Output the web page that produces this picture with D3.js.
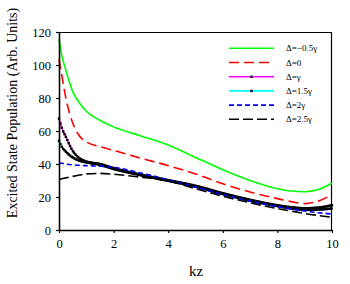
<!DOCTYPE html>
<html>
<head>
<meta charset="utf-8">
<script src="https://cdn.jsdelivr.net/npm/d3@7"></script>
<style>
  body { margin: 0; background: #fff; }
  svg { display: block; }
  svg text { font-family: "Liberation Serif", "Times New Roman", serif !important; }
</style>
</head>
<body>
<svg id="chart" width="350" height="284"></svg>
<script>
// values
var kz         = [0, 0.1, 0.25, 0.5, 0.75, 1, 1.5, 2, 3, 4, 5, 6, 7, 8, 8.5, 9, 9.5, 10];
var dNeg05     = [115.5, 106, 97, 84, 77, 72, 66.5, 62.5, 57, 51.5, 44, 36.5, 30, 25, 23.6, 23.2, 24.5, 28.5];
var dZero      = [103.5, 94, 80, 65, 57, 53.5, 50.5, 48.3, 43.5, 39, 34, 28, 23, 19, 17.2, 16, 17.5, 21.5];
var dGamma     = [67.5, 62, 56.5, 48, 43.5, 41.5, 40, 37.5, 33.5, 30.2, 26.8, 22.3, 18.3, 15, 13.8, 13.2, 13.6, 15];
var d15Gamma   = [54, 50.5, 47.5, 44, 42, 41, 39.5, 37, 33.2, 29.8, 26.3, 21.8, 17.8, 14.5, 13.1, 12.3, 12.4, 13];
var d2Gamma    = [40.8, 40.5, 40, 39.5, 39.2, 39, 38.7, 38, 34.5, 30.5, 26, 21.5, 17.5, 14.2, 12.8, 11.5, 10.5, 9.7];
var d25Gamma   = [30.5, 31, 31.6, 32.5, 33.3, 34, 34.3, 33.8, 32, 29.8, 25, 20.5, 16.5, 13, 11.5, 10, 8.8, 7.7];
var xTicks     = [0, 2, 4, 6, 8, 10];
var yTicks     = [0, 20, 40, 60, 80, 100, 120];

var series = [
    { label: "\u0394=\u22120.5\u03b3", values: dNeg05,   color: "#00ff00", dash: null,   marks: false },
    { label: "\u0394=0",               values: dZero,    color: "#ff0000", dash: "10,5", marks: false },
    { label: "\u0394=\u03b3",          values: dGamma,   color: "#ff00ff", dash: null,   marks: true },
    { label: "\u0394=1.5\u03b3",       values: d15Gamma, color: "#00ffff", dash: null,   marks: true },
    { label: "\u0394=2\u03b3",         values: d2Gamma,  color: "#0000ff", dash: "5,3",  marks: false },
    { label: "\u0394=2.5\u03b3",       values: d25Gamma, color: "#000000", dash: "10,4", marks: false }
];

var svg = d3.select("#chart"),
    margin = { left: 59, right: 18, top: 32, bottom: 54 },
    width = 350 - margin.left - margin.right,
    height = 284 - margin.top - margin.bottom;

var x = d3.scaleLinear().domain([0, 10]).range([0, width]);
var y = d3.scaleLinear().domain([0, 120]).range([height, 0]);

var main = svg.append("g").attr("transform", "translate(" + margin.left + "," + margin.top + ")");

// frame (top and right)
main.append("path")
    .attr("d", "M0,0.5H" + (width - 0.5) + "V" + height)
    .attr("fill", "none").attr("stroke", "#000").attr("stroke-width", 1.2);

var line = d3.line()
    .x(function (d) { return x(d[0]); })
    .y(function (d) { return y(d[1]); })
    .curve(d3.curveMonotoneX);

series.forEach(function (s) {
    var pts = kz.map(function (k, i) { return [k, s.values[i]]; });
    var path = main.append("path")
        .datum(pts)
        .attr("d", line)
        .attr("fill", "none")
        .attr("stroke", s.color)
        .attr("stroke-width", 1.6)
        .attr("stroke-dasharray", s.dash);
    if (s.marks) {
        // dense square markers laid along the drawn curve
        var node = path.node(), total = node.getTotalLength(), samples = [], l, j = 0, k2;
        for (l = 0; l <= total; l += 0.5) { samples.push(node.getPointAtLength(l)); }
        var marks = [];
        for (k2 = 0; k2 <= 10.0001; k2 += 0.05) {
            var tx = x(k2);
            while (j < samples.length - 1 && samples[j].x < tx) { j++; }
            marks.push(samples[j]);
        }
        main.append("g").selectAll("rect").data(marks).enter().append("rect")
            .attr("x", function (d) { return d.x - 1.2; })
            .attr("y", function (d) { return d.y - 1.2; })
            .attr("width", 2.4).attr("height", 2.4)
            .attr("fill", "#000");
    }
});

// axes
var xAxis = main.append("g")
    .attr("transform", "translate(0," + height + ")")
    .call(d3.axisBottom(x).tickValues(xTicks).tickSize(3).tickSizeOuter(0).tickPadding(6));
var yAxis = main.append("g")
    .call(d3.axisLeft(y).tickValues(yTicks).tickSize(3).tickSizeOuter(0).tickPadding(5));
[xAxis, yAxis].forEach(function (a) {
    a.attr("font-family", null);
    a.select(".domain").attr("stroke-width", 1.6);
    a.selectAll(".tick line").attr("stroke-width", 1.2);
    a.selectAll(".tick text")
        .style("font-size", "12.5px")
        .attr("fill", "#000");
});

// axis titles
svg.append("text")
    .attr("x", 196).attr("y", 276)
    .attr("text-anchor", "middle")
    .style("font-size", "15px")
    .text("kz");
svg.append("text")
    .attr("transform", "translate(17,113) rotate(-90)")
    .attr("text-anchor", "middle")
    .style("font-size", "14px")
    .text("Excited State Population (Arb. Units)");

// legend
var legend = svg.append("g").selectAll("g").data(series).enter().append("g")
    .attr("transform", function (d, i) { return "translate(229," + (48.3 + i * 14.2) + ")"; });
legend.append("line")
    .attr("x1", 0).attr("x2", 45)
    .attr("stroke", function (d) { return d.color; })
    .attr("stroke-width", 1.6)
    .attr("stroke-dasharray", function (d) { return d.dash; });
legend.filter(function (d) { return d.marks; }).append("rect")
    .attr("x", 21.3).attr("y", -1.2).attr("width", 2.4).attr("height", 2.4)
    .attr("fill", "#000");
legend.append("text")
    .attr("x", 57).attr("y", 3)
    .style("font-size", "9px")
    .text(function (d) { return d.label; });
</script>
</body>
</html>
